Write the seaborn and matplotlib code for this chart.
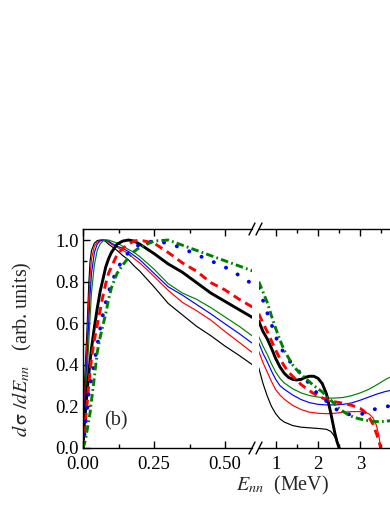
import matplotlib
matplotlib.use("Agg")
import matplotlib.pyplot as plt
import seaborn as sns

# ---- left part of the broken axis (E_nn from 0 to 0.6 MeV) ----
e_left = [0, 0.005, 0.01, 0.015, 0.02, 0.025, 0.03, 0.04, 0.05, 0.06, 0.07, 0.08, 0.09, 0.1,
          0.12, 0.14, 0.16, 0.18, 0.2, 0.25, 0.3, 0.35, 0.4, 0.45, 0.5, 0.55, 0.6]
thin_black_l = [0, 0.30, 0.45, 0.60, 0.78, 0.90, 0.95, 0.985, 0.997, 1.0, 1.0, 0.993, 0.98, 0.97,
                0.95, 0.925, 0.905, 0.875, 0.85, 0.775, 0.695, 0.64, 0.585, 0.54, 0.49, 0.445, 0.397]
thin_red_l = [0, 0.22, 0.38, 0.52, 0.70, 0.83, 0.91, 0.97, 0.99, 0.998, 1.0, 0.998, 0.99, 0.98,
              0.965, 0.95, 0.935, 0.91, 0.89, 0.825, 0.758, 0.70, 0.66, 0.615, 0.56, 0.508, 0.455]
thin_blue_l = [0, 0.18, 0.32, 0.45, 0.60, 0.74, 0.84, 0.94, 0.98, 0.995, 1.0, 1.0, 0.995, 0.985,
               0.97, 0.96, 0.945, 0.925, 0.905, 0.84, 0.775, 0.735, 0.69, 0.645, 0.597, 0.55, 0.50]
thin_green_l = [0, 0.14, 0.26, 0.38, 0.50, 0.63, 0.75, 0.88, 0.95, 0.98, 0.995, 1.0, 1.0, 0.995,
                0.985, 0.97, 0.955, 0.94, 0.92, 0.86, 0.79, 0.745, 0.715, 0.675, 0.63, 0.585, 0.535]
thick_black_l = [0, 0.12, 0.20, 0.28, 0.35, 0.42, 0.48, 0.58, 0.67, 0.75, 0.81, 0.87, 0.91, 0.94,
                 0.98, 0.995, 1.0, 0.995, 0.98, 0.935, 0.885, 0.845, 0.795, 0.745, 0.705, 0.665, 0.625]
red_dash_l = [0, 0.08, 0.15, 0.22, 0.30, 0.37, 0.43, 0.52, 0.59, 0.66, 0.73, 0.79, 0.84, 0.87,
              0.93, 0.96, 0.98, 0.995, 1.0, 0.985, 0.94, 0.89, 0.85, 0.795, 0.76, 0.715, 0.675]
blue_dot_l = [0, 0.06, 0.13, 0.20, 0.26, 0.30, 0.335, 0.41, 0.49, 0.57, 0.64, 0.70, 0.75, 0.79,
              0.86, 0.905, 0.94, 0.96, 0.98, 0.995, 0.985, 0.96, 0.93, 0.90, 0.87, 0.83, 0.785]
green_dd_l = [0, 0.02, 0.05, 0.09, 0.13, 0.17, 0.23, 0.34, 0.46, 0.53, 0.59, 0.645, 0.715, 0.77,
              0.84, 0.88, 0.915, 0.945, 0.965, 0.995, 1.0, 0.975, 0.95, 0.925, 0.9, 0.875, 0.85]

# ---- right part of the broken axis (E_nn from 0.6 MeV on) ----
e_thin_black_r = [0.6, 0.7, 0.8, 0.9, 1.0, 1.1, 1.2, 1.4, 1.6, 1.8, 2.0, 2.2, 2.3, 2.36, 2.42, 2.46, 2.49]
thin_black_r = [0.385, 0.31, 0.25, 0.2, 0.165, 0.14, 0.125, 0.108, 0.1, 0.097, 0.094, 0.09, 0.08,
                0.065, 0.045, 0.025, 0.0]

e_thick_black_r = [0.6, 0.7, 0.8, 0.9, 1.0, 1.1, 1.2, 1.3, 1.4, 1.5, 1.6, 1.7, 1.8, 1.9, 2.0, 2.1,
                   2.2, 2.3, 2.4, 2.45, 2.5]
thick_black_r = [0.61, 0.56, 0.525, 0.48, 0.43, 0.39, 0.36, 0.34, 0.33, 0.327, 0.33, 0.34, 0.345,
                 0.345, 0.335, 0.31, 0.26, 0.17, 0.07, 0.03, 0.0]

e_thin_red_r = [0.6, 0.7, 0.8, 0.9, 1.0, 1.1, 1.2, 1.4, 1.6, 1.8, 2.0, 2.2, 2.4, 2.6, 2.8, 3.0,
                3.1, 3.2, 3.3, 3.38, 3.44, 3.48]
thin_red_r = [0.465, 0.41, 0.365, 0.32, 0.28, 0.255, 0.235, 0.205, 0.185, 0.172, 0.167, 0.165,
              0.167, 0.172, 0.175, 0.175, 0.172, 0.165, 0.145, 0.11, 0.06, 0.0]

e_thin_r = [0.6, 0.7, 0.8, 0.9, 1.0, 1.1, 1.2, 1.4, 1.6, 1.8, 2.0, 2.2, 2.4, 2.6, 2.8, 3.0, 3.2,
            3.4, 3.6, 3.8]
thin_blue_r = [0.505, 0.455, 0.415, 0.37, 0.33, 0.3, 0.283, 0.255, 0.233, 0.218, 0.21, 0.207,
               0.207, 0.21, 0.217, 0.23, 0.245, 0.26, 0.272, 0.28]
thin_green_r = [0.535, 0.49, 0.45, 0.405, 0.365, 0.335, 0.313, 0.285, 0.265, 0.252, 0.245, 0.24,
                0.24, 0.243, 0.252, 0.265, 0.282, 0.305, 0.33, 0.35]

e_red_dash_r = [0.6, 0.7, 0.8, 0.9, 1.0, 1.1, 1.2, 1.3, 1.4, 1.5, 1.6, 1.7, 1.8, 1.9, 2.0, 2.2,
                2.4, 2.6, 2.8, 3.0, 3.1, 3.2, 3.3, 3.38, 3.44, 3.48]
red_dash_r = [0.645, 0.6, 0.56, 0.515, 0.47, 0.43, 0.395, 0.365, 0.345, 0.325, 0.305, 0.29, 0.275,
              0.262, 0.25, 0.232, 0.222, 0.215, 0.205, 0.19, 0.175, 0.15, 0.115, 0.07, 0.035, 0.0]

e_thick_r = [0.6, 0.7, 0.8, 0.9, 1.0, 1.1, 1.2, 1.3, 1.4, 1.5, 1.6, 1.7, 1.8, 1.9, 2.0, 2.1, 2.2,
             2.3, 2.4, 2.5, 2.6, 2.7, 2.8, 2.9, 3.0, 3.1, 3.2, 3.3, 3.4, 3.5, 3.6, 3.7, 3.8]
blue_dot_r = [0.77, 0.71, 0.65, 0.595, 0.535, 0.49, 0.455, 0.425, 0.4, 0.38, 0.355, 0.335, 0.305,
              0.28, 0.26, 0.243, 0.225, 0.205, 0.19, 0.178, 0.17, 0.163, 0.16, 0.159, 0.161, 0.168,
              0.177, 0.184, 0.19, 0.195, 0.199, 0.202, 0.204]
green_dd_r = [0.8, 0.75, 0.7, 0.635, 0.575, 0.52, 0.47, 0.435, 0.4, 0.375, 0.355, 0.335, 0.318,
              0.3, 0.285, 0.27, 0.25, 0.23, 0.21, 0.19, 0.175, 0.162, 0.152, 0.145, 0.139, 0.135,
              0.131, 0.128, 0.127, 0.127, 0.129, 0.131, 0.133]

GREEN = "#008000"
DASHED = (0, (2.8, 1.8))
DOTTED = (0, (0.05, 3.4))
DASHDOT = (0, (2.6, 1.1, 0.6, 1.1))

sns.set_style("ticks")
plt.rcParams["font.family"] = ["Liberation Serif", "DejaVu Serif"]
plt.rcParams["mathtext.fontset"] = "stix"
plt.rcParams["axes.edgecolor"] = "black"
plt.rcParams["xtick.color"] = "black"
plt.rcParams["ytick.color"] = "black"

W, H = 390, 505
fig = plt.figure(figsize=(W / 100, H / 100), dpi=100)

# axes in pixel positions
x0, x1, x2, x3 = 83, 252, 259, 398
ybot, ytop = 448, 229
ax1 = fig.add_axes([x0 / W, (H - ybot) / H, (x1 - x0) / W, (ybot - ytop) / H])
ax2 = fig.add_axes([x2 / W, (H - ybot) / H, (x3 - x2) / W, (ybot - ytop) / H])

left_curves = [
    (thin_black_l, "black", 0.85, "-"),
    (thin_red_l, "red", 0.85, "-"),
    (thin_blue_l, "blue", 0.85, "-"),
    (thin_green_l, GREEN, 0.85, "-"),
    (thick_black_l, "black", 2.1, "-"),
    (red_dash_l, "red", 2.1, DASHED),
    (blue_dot_l, "blue", 2.8, DOTTED),
    (green_dd_l, GREEN, 2.1, DASHDOT),
]
for y, c, lw, ls in left_curves:
    sns.lineplot(x=e_left, y=y, ax=ax1, color=c, lw=lw, linestyle=ls,
                 dash_capstyle="round" if ls == DOTTED else "butt")

right_curves = [
    (e_thin_black_r, thin_black_r, "black", 0.85, "-"),
    (e_thin_red_r, thin_red_r, "red", 0.85, "-"),
    (e_thin_r, thin_blue_r, "blue", 0.85, "-"),
    (e_thin_r, thin_green_r, GREEN, 0.85, "-"),
    (e_thick_black_r, thick_black_r, "black", 2.1, "-"),
    (e_red_dash_r, red_dash_r, "red", 2.1, DASHED),
    (e_thick_r, blue_dot_r, "blue", 2.8, DOTTED),
    (e_thick_r, green_dd_r, GREEN, 2.1, DASHDOT),
]
for x, y, c, lw, ls in right_curves:
    sns.lineplot(x=x, y=y, ax=ax2, color=c, lw=lw, linestyle=ls,
                 dash_capstyle="round" if ls == DOTTED else "butt")

ymax = 1.053
ax1.set_xlim(0, (x1 - x0) / 284)
ax2.set_xlim(1 + (x2 - 275.7) / 42.3, 1 + (x3 - 275.7) / 42.3)
for ax in (ax1, ax2):
    ax.set_ylim(0, ymax)
    ax.set_xlabel("")
    ax.set_ylabel("")
    for sp in ax.spines.values():
        sp.set_linewidth(1.0)
    ax.tick_params(which="both", direction="in", top=True, bottom=True, width=1.0,
                   labelsize=13.5, pad=6)
    ax.tick_params(which="major", length=5)
    ax.tick_params(which="minor", length=3)

ax1.spines["right"].set_visible(False)
ax2.spines["left"].set_visible(False)
ax2.spines["right"].set_visible(False)

ax1.set_xticks([0, 0.25, 0.5])
ax1.set_xticklabels(["0.00", "0.25", "0.50"])
ax1.set_xticks([0.125, 0.375], minor=True)
ax1.set_yticks([0, 0.2, 0.4, 0.6, 0.8, 1.0])
ax1.set_yticklabels(["0.0", "0.2", "0.4", "0.6", "0.8", "1.0"])
ax1.set_yticks([0.1, 0.3, 0.5, 0.7, 0.9], minor=True)
ax1.tick_params(axis="y", pad=3)

ax2.set_xticks([1, 2, 3])
ax2.set_xticklabels(["1", "2", "3"])
ax2.set_xticks([1.5, 2.5, 3.5], minor=True)
ax2.tick_params(axis="y", which="both", left=False, right=False, labelleft=False)

# break marks "//" on both horizontal spines
dx1, dy1 = 3 / (x1 - x0), 6 / (ybot - ytop)
dx2 = 3 / (x3 - x2)
for yy in (0, 1):
    ax1.plot([1 - dx1, 1 + dx1], [yy - dy1, yy + dy1], transform=ax1.transAxes,
             color="black", lw=1.0, clip_on=False)
    ax2.plot([-dx2, dx2], [yy - dy1, yy + dy1], transform=ax2.transAxes,
             color="black", lw=1.0, clip_on=False)

ax1.text(0.193, 0.123, "(b)", transform=ax1.transAxes, fontsize=14.5,
         ha="center", va="center")

fig.text(22 / W, (H - 349) / H, r"$d\,\mathrm{\sigma}\ /dE_{nn}$   (arb. units)",
         rotation=90, ha="center", va="center", fontsize=14.5)
fig.text(283 / W, (H - 485) / H, r"$E_{nn}$  (MeV)", ha="center", va="center",
         fontsize=14.5)

fig.savefig("out.png", dpi=100)
